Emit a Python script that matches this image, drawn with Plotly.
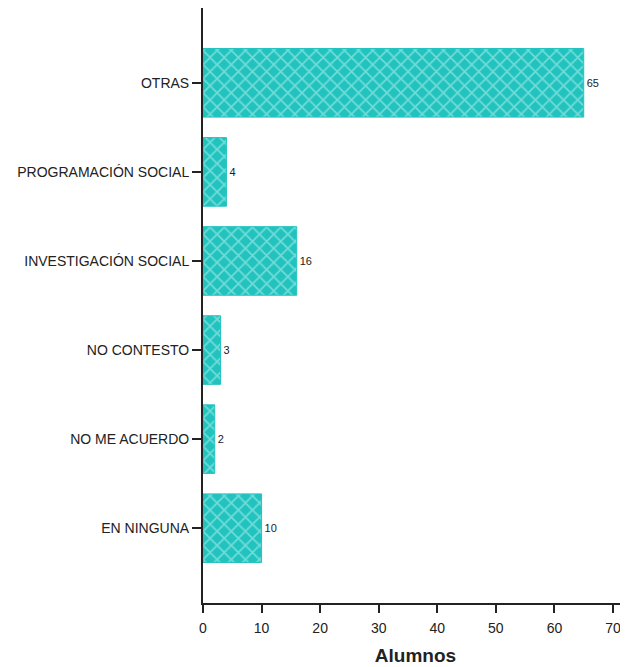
import plotly.graph_objects as go

categories = ["OTRAS", "PROGRAMACIÓN SOCIAL", "INVESTIGACIÓN SOCIAL",
              "NO CONTESTO", "NO ME ACUERDO", "EN NINGUNA"]
values = [65, 4, 16, 3, 2, 10]
x_ticks = [0, 10, 20, 30, 40, 50, 60, 70]

fig = go.Figure(go.Bar(
    y=categories, x=values, orientation="h",
    width=0.77,
    marker=dict(color="#22c3bf", line=dict(color="#22c3bf", width=1),
                pattern=dict(shape="x", fgcolor="#c4f5f1", size=10, solidity=0.3)),
    text=[str(v) for v in values], textposition="outside",
    textfont=dict(family="Liberation Sans Narrow, Liberation Sans, Arial", size=11, color="#222"),
    cliponaxis=False,
))

# page body has an 8px margin: figure is drawn 8px right/down of the window origin
fig.update_layout(
    width=620, height=659,
    margin=dict(l=195, r=0, t=0, b=64, autoexpand=False),
    paper_bgcolor="white", plot_bgcolor="white",
    showlegend=False,
    font=dict(family="Liberation Sans, Arial", size=14, color="#222"),
    xaxis=dict(range=[0, 72.56], tickvals=x_ticks, showgrid=False, zeroline=False,
               showline=True, linecolor="#222", linewidth=2, automargin=False,
               ticks="outside", ticklen=8, tickwidth=2, tickcolor="#222",
               ticklabelstandoff=3,
               tickfont=dict(size=14),
               title=dict(text="<b>Alumnos</b>", font=dict(size=19), standoff=14)),
    yaxis=dict(type="category", categoryorder="array", categoryarray=categories,
               range=[5.84, -0.84], showgrid=False, zeroline=False, automargin=False,
               showline=True, linecolor="#222", linewidth=2,
               ticks="outside", ticklen=9, tickwidth=2, tickcolor="#222",
               tickfont=dict(size=14)),
)

fig.write_html("out.html")
